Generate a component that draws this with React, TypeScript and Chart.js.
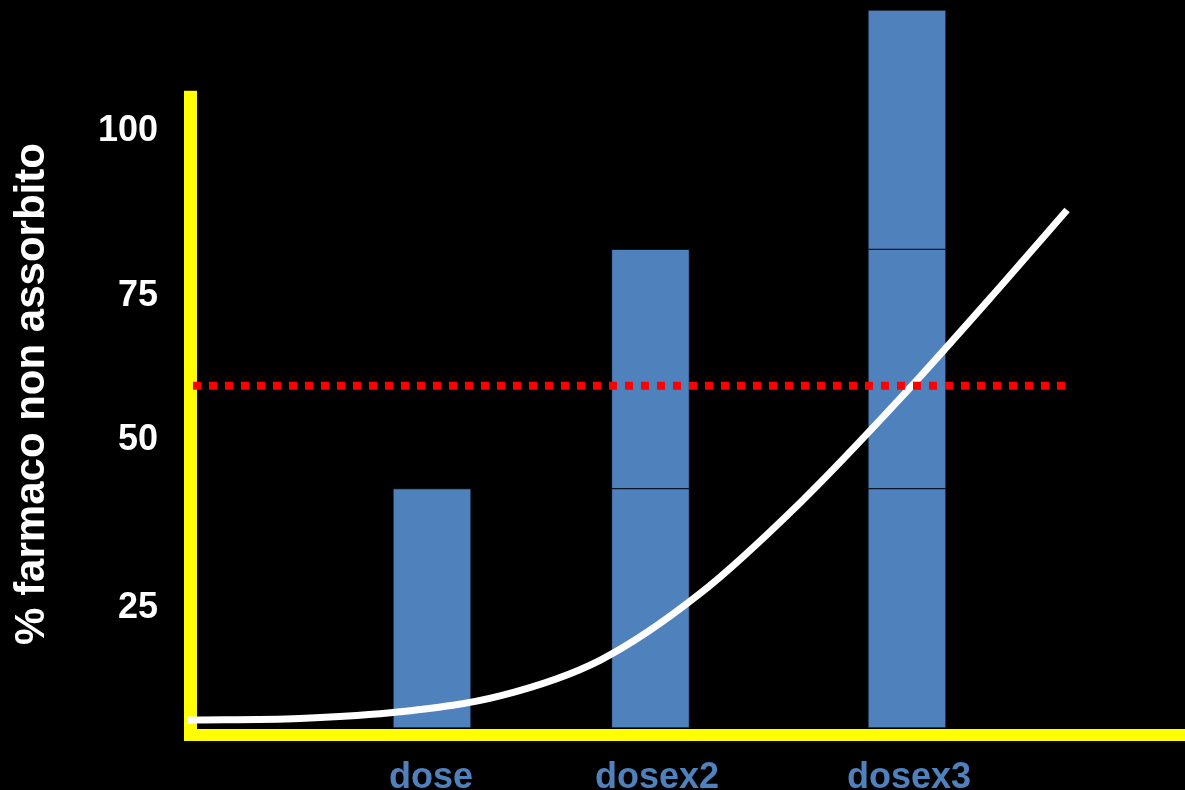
import React, { useEffect, useRef } from "react";
import { Chart, registerables } from "chart.js";

Chart.register(...registerables);

// ---- data ----
const categories = ["dose", "dosex2", "dosex3"];
const barX = [24.55, 46.44, 72.14];
const labelX = [24.45, 47.09, 72.34];
const layer1 = [40, 40, 40];
const layer2 = [null, 40, 40];
const layer3 = [null, null, 40];

const curveX = [0, 11.32, 21.34, 31.36, 41.38, 51.4, 61.42, 71.44, 81.46, 88.18];
const curveY = [1.34, 1.6, 2.7, 5.37, 11.32, 22.47, 37.62, 55.04, 73.71, 86.58];

const refValue = 57.2;
const refStartX = 0.6;
const refEndX = 88.0;

const yTickValues = [20.0, 48.1, 72.2, 99.8];
const yTickLabels = ["25", "50", "75", "100"];
const yTitle = "% farmaco non assorbito";
const axisTopValue = 106.5;

// ---- styles ----
const FONT = '"Liberation Sans", Arial, sans-serif';
const BAR_COLOR = "#4F81BD";
const BAR_BORDER = "#0d1726";
const AXIS_COLOR = "#FFFF00";

const toPoints = (xs: number[], ys: (number | null)[]) =>
  xs
    .map((x, i) => (ys[i] == null ? null : { x, y: ys[i] as number }))
    .filter((p) => p !== null);

const yellowAxes = {
  id: "yellowAxes",
  beforeDatasetsDraw(chart: any) {
    const { ctx, chartArea, scales } = chart;
    const yTop = scales.y.getPixelForValue(axisTopValue);
    ctx.save();
    ctx.fillStyle = AXIS_COLOR;
    ctx.fillRect(chartArea.left - 3, yTop, 13, chartArea.bottom + 13 - yTop);
    ctx.fillRect(chartArea.left - 3, chartArea.bottom + 1, chart.width - chartArea.left + 3, 12);
    ctx.restore();
  },
};

const axisTitle = {
  id: "axisTitle",
  afterDraw(chart: any) {
    const { ctx } = chart;
    ctx.save();
    ctx.translate(32.4, 394);
    ctx.rotate(-Math.PI / 2);
    ctx.font = `bold 42px ${FONT}`;
    ctx.fillStyle = "#FFFFFF";
    ctx.textAlign = "center";
    ctx.textBaseline = "middle";
    ctx.fillText(yTitle, 0, 0);
    ctx.restore();
  },
};

export default function App() {
  const ref = useRef<HTMLCanvasElement>(null);

  useEffect(() => {
    if (!ref.current) return;
    const barCommon = {
      type: "bar" as const,
      stack: "bars",
      backgroundColor: BAR_COLOR,
      borderColor: BAR_BORDER,
      borderWidth: 1,
      borderSkipped: false,
      barThickness: 78,
      order: 2,
    };
    const chart = new Chart(ref.current, {
      type: "bar",
      data: {
        datasets: [
          {
            type: "line",
            data: [
              { x: refStartX, y: refValue },
              { x: refEndX, y: refValue },
            ],
            borderColor: "#FF0000",
            borderWidth: 8,
            borderDash: [8, 8],
            borderCapStyle: "butt",
            pointRadius: 0,
            fill: false,
            order: 0,
            clip: false,
          } as any,
          {
            type: "line",
            data: toPoints(curveX, curveY),
            borderColor: "#FFFFFF",
            borderWidth: 7,
            cubicInterpolationMode: "monotone",
            pointRadius: 0,
            fill: false,
            order: 1,
            clip: false,
          } as any,
          { ...barCommon, data: toPoints(barX, layer1) } as any,
          { ...barCommon, data: toPoints(barX, layer2) } as any,
          { ...barCommon, data: toPoints(barX, layer3) } as any,
        ],
      },
      options: {
        responsive: false,
        animation: false,
        layout: { padding: { top: 10, left: 0, right: 0, bottom: 0 } },
        plugins: { legend: { display: false }, tooltip: { enabled: false } },
        scales: {
          x: {
            type: "linear",
            min: 0,
            max: 100,
            offset: false,
            grid: { display: false, drawTicks: false, offset: false },
            border: { display: false },
            afterBuildTicks: (scale: any) => {
              scale.ticks = labelX.map((v) => ({ value: v }));
            },
            afterFit: (scale: any) => {
              scale.height = 62;
              scale.paddingLeft = 0;
              scale.paddingRight = 0;
            },
            ticks: {
              autoSkip: false,
              maxRotation: 0,
              padding: 28,
              color: BAR_COLOR,
              font: { family: FONT, size: 36, weight: "bold" },
              callback: (_v: any, i: number) => categories[i],
            },
          },
          y: {
            type: "linear",
            min: 0,
            max: 120,
            grid: { display: false, drawTicks: false },
            border: { display: false },
            afterBuildTicks: (scale: any) => {
              scale.ticks = yTickValues.map((v) => ({ value: v }));
            },
            afterFit: (scale: any) => {
              scale.width = 187;
              scale.paddingTop = 0;
              scale.paddingBottom = 0;
            },
            ticks: {
              autoSkip: false,
              padding: 29,
              color: "#FFFFFF",
              font: { family: FONT, size: 36, weight: "bold" },
              callback: (_v: any, i: number) => yTickLabels[i],
            },
          },
        },
      } as any,
      plugins: [yellowAxes, axisTitle],
    });
    return () => chart.destroy();
  }, []);

  return (
    <div
      style={{
        position: "fixed",
        left: 0,
        top: 0,
        width: 1185,
        height: 790,
        background: "#000",
      }}
    >
      <canvas ref={ref} width={1185} height={790} style={{ display: "block", background: "#000" }} />
    </div>
  );
}
